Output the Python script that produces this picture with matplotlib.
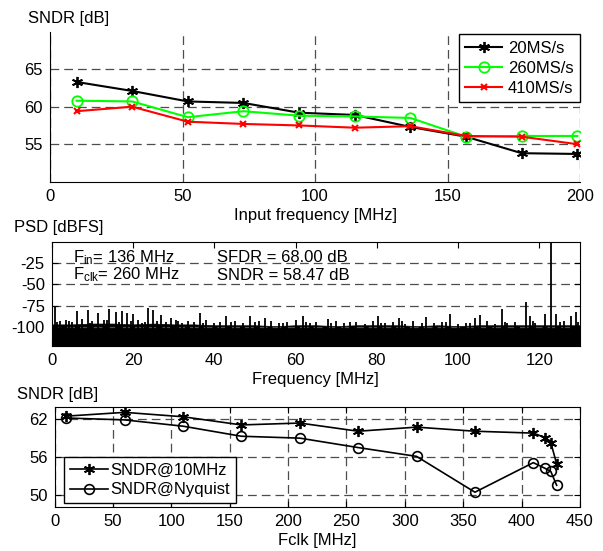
import matplotlib
matplotlib.use("Agg")
import matplotlib.pyplot as plt
import numpy as np

plt.rcParams['font.family'] = ['Liberation Sans', 'DejaVu Sans']
plt.rcParams['font.size'] = 12
plt.rcParams['mathtext.default'] = 'regular'
plt.rcParams['axes.unicode_minus'] = False

# --- top panel: SNDR vs input frequency
fin = [10, 31, 52, 73, 94, 115, 136, 157, 178, 199]
sndr_20 = [63.3, 62.1, 60.7, 60.5, 59.2, 58.9, 57.3, 56.0, 53.8, 53.7]
sndr_260 = [60.8, 60.7, 58.6, 59.4, 58.8, 58.7, 58.5, 56.0, 56.1, 56.1]
sndr_410 = [59.4, 60.0, 58.0, 57.7, 57.5, 57.2, 57.4, 56.1, 56.0, 55.0]

# --- middle panel: PSD (noise floor + spurs)
floor_f = [0, 5, 10, 15, 20, 25, 30, 35, 40, 45, 50, 55, 60, 65,
           70, 75, 80, 85, 90, 95, 100, 105, 110, 115, 120, 125, 130]
floor_db = [-97, -97, -96, -96, -97, -96, -97, -97, -98, -98, -98, -99, -98, -98,
            -99, -98, -98, -98, -99, -98, -99, -98, -98, -98, -98, -98, -98]
spur_f = [0.7, 6.2, 8.9, 11.5, 14.1, 15.9, 17.4, 18.5, 20.0, 23.7, 24.9, 27.0,
          29.3, 36.4, 43.0, 48.7, 52.4, 61.8, 67.9, 80.2, 85.4, 92.0, 98.1,
          104.2, 105.3, 110.7, 116.6, 117.7, 121.5, 122.8, 124.1, 127.8, 128.9,
          2.0, 3.5, 5.0, 7.5, 10.0, 12.8, 16.5, 19.5, 21.2, 22.2, 26.0, 28.2,
          30.5, 32.0, 33.5, 35.0, 38.0, 40.0, 41.5, 45.0, 47.0, 50.0, 54.0,
          56.0, 58.0, 60.0, 63.5, 65.0, 70.0, 72.0, 75.0, 77.0, 79.0, 82.0,
          84.0, 87.0, 89.0, 94.0, 96.0, 100.0, 102.0, 107.0, 109.0, 112.0,
          114.0, 119.0, 126.0, 129.5,
          1.2, 4.3, 9.5, 13.5, 23.0, 31.2, 37.2, 44.0, 51.0, 57.0, 62.5,
          68.8, 73.5, 81.0, 86.2, 91.0, 97.0, 103.0, 111.5, 118.5, 125.2]
spur_db = [-77, -81.6, -80.5, -84, -78.5, -82.8, -81.6, -83.6, -85, -77.7, -79.7, -86,
           -89.5, -83.6, -87.5, -86.7, -89.5, -87.5, -90.6, -86.7, -89.5, -88.3, -84.4,
           -89.6, -85.8, -78.8, -70.4, -87.7, -84.6, 0, -84.6, -87.7, -82,
           -93, -92, -94, -91, -93, -92, -94, -93, -92, -95, -93, -94,
           -92, -95, -93, -94, -92, -95, -94, -93, -95, -94, -93,
           -95, -94, -92, -95, -94, -93, -95, -94, -96, -93, -95,
           -94, -96, -93, -95, -94, -96, -95, -93, -96, -95,
           -94, -95, -93, -94,
           -94, -93, -95, -92, -94, -93, -95, -94, -93, -95, -94,
           -95, -94, -95, -93, -95, -94, -95, -94, -93, -94]

# --- bottom panel: SNDR vs Fclk
fclk = [10, 60, 110, 160, 210, 260, 310, 360, 410, 420, 425, 430]
sndr_10m = [62.5, 63.1, 62.4, 61.1, 61.4, 60.1, 60.75, 60.1, 59.8, 59.1, 58.3, 54.9]
sndr_nyq = [62.2, 61.9, 60.9, 59.3, 59.0, 57.5, 56.1, 50.4, 55.1, 54.2, 53.7, 51.5]

W, H = 603, 551
fig = plt.figure(figsize=(W / 100, H / 100), dpi=100)


def box(l, t, r, b):
    return [l / W, 1 - b / H, (r - l) / W, (b - t) / H]


grid_kw = dict(color='0.3', linestyle=(0, (7, 4)), linewidth=0.9)
asterisk = (6, 2, 0)

# top panel
ax1 = fig.add_axes(box(50, 31.7, 580, 181.7))
ax1.plot(fin, sndr_20, color='k', lw=1.5, marker=asterisk, ms=8, mew=1.3, label='20MS/s')
ax1.plot(fin, sndr_260, color=(0, 1, 0), lw=1.5, marker='o', ms=7.5, mfc='none', mew=1.3,
         label='260MS/s')
ax1.plot(fin, sndr_410, color='r', lw=1.5, marker='x', ms=4.5, mew=1.5, label='410MS/s')
ax1.set_xlim(0, 200)
ax1.set_ylim(50, 70)
ax1.set_xticks([0, 50, 100, 150, 200])
ax1.set_yticks([55, 60, 65])
ax1.grid(True, **grid_kw)
ax1.spines['top'].set_visible(False)
ax1.spines['right'].set_visible(False)
ax1.tick_params(direction='in', length=0, pad=5)
ax1.set_xlabel('Input frequency [MHz]', labelpad=3)
leg1 = ax1.legend(loc='upper right', bbox_to_anchor=(1.0, 0.985), fancybox=False,
                  edgecolor='k', framealpha=1, borderpad=0.4, labelspacing=0.3,
                  handlelength=2.2, handletextpad=0.35, borderaxespad=0)
leg1.get_frame().set_linewidth(1.0)
fig.text(28 / W, 1 - 19 / H, 'SNDR [dB]', va='center', ha='left')

# middle panel
ax2 = fig.add_axes(box(51.7, 241.7, 580, 345.7))
ax2.fill_between(floor_f, -122, floor_db, color='k', lw=0.5)
ax2.vlines(spur_f, -122, spur_db, color='k', lw=1.3)
ax2.set_xlim(0, 130)
ax2.set_ylim(-122, 0)
ax2.set_xticks([0, 20, 40, 60, 80, 100, 120])
ax2.set_yticks([-100, -75, -50, -25])
ax2.grid(True, axis='y', **grid_kw)
ax2.tick_params(direction='in', length=4, top=True, right=True, pad=5)
ax2.set_xlabel('Frequency [MHz]', labelpad=3)
ax2.text(5.2, -24, r'F$_{in}$= 136 MHz', fontsize=12)
ax2.text(5.2, -44.5, r'F$_{clk}$= 260 MHz', fontsize=12)
ax2.text(40.6, -24, 'SFDR = 68.00 dB', fontsize=12)
ax2.text(40.6, -44.5, 'SNDR = 58.47 dB', fontsize=12)
fig.text(14 / W, 1 - 228 / H, 'PSD [dBFS]', va='center', ha='left')

# bottom panel
ax3 = fig.add_axes(box(54.6, 406.7, 580, 507.3))
ax3.plot(fclk, sndr_10m, color='k', lw=1.2, marker=asterisk, ms=8, mew=1.3,
         label='SNDR@10MHz')
ax3.plot(fclk, sndr_nyq, color='k', lw=1.2, marker='o', ms=7, mfc='none', mew=1.2,
         label='SNDR@Nyquist')
ax3.set_xlim(0, 450)
ax3.set_ylim(48, 64)
ax3.set_xticks(np.arange(0, 451, 50))
ax3.set_yticks([50, 56, 62])
ax3.grid(True, **grid_kw)
ax3.tick_params(direction='in', length=4, top=True, right=True, pad=5)
ax3.set_xlabel('Fclk [MHz]', labelpad=3)
leg3 = ax3.legend(loc='lower left', bbox_to_anchor=(0.018, 0.04), fancybox=False,
                  edgecolor='k', framealpha=1, borderpad=0.35, labelspacing=0.25,
                  handlelength=2.3, handletextpad=0.15, borderaxespad=0)
leg3.get_frame().set_linewidth(1.0)
fig.text(17 / W, 1 - 395 / H, 'SNDR [dB]', va='center', ha='left')

fig.savefig('out.png', dpi=100)
